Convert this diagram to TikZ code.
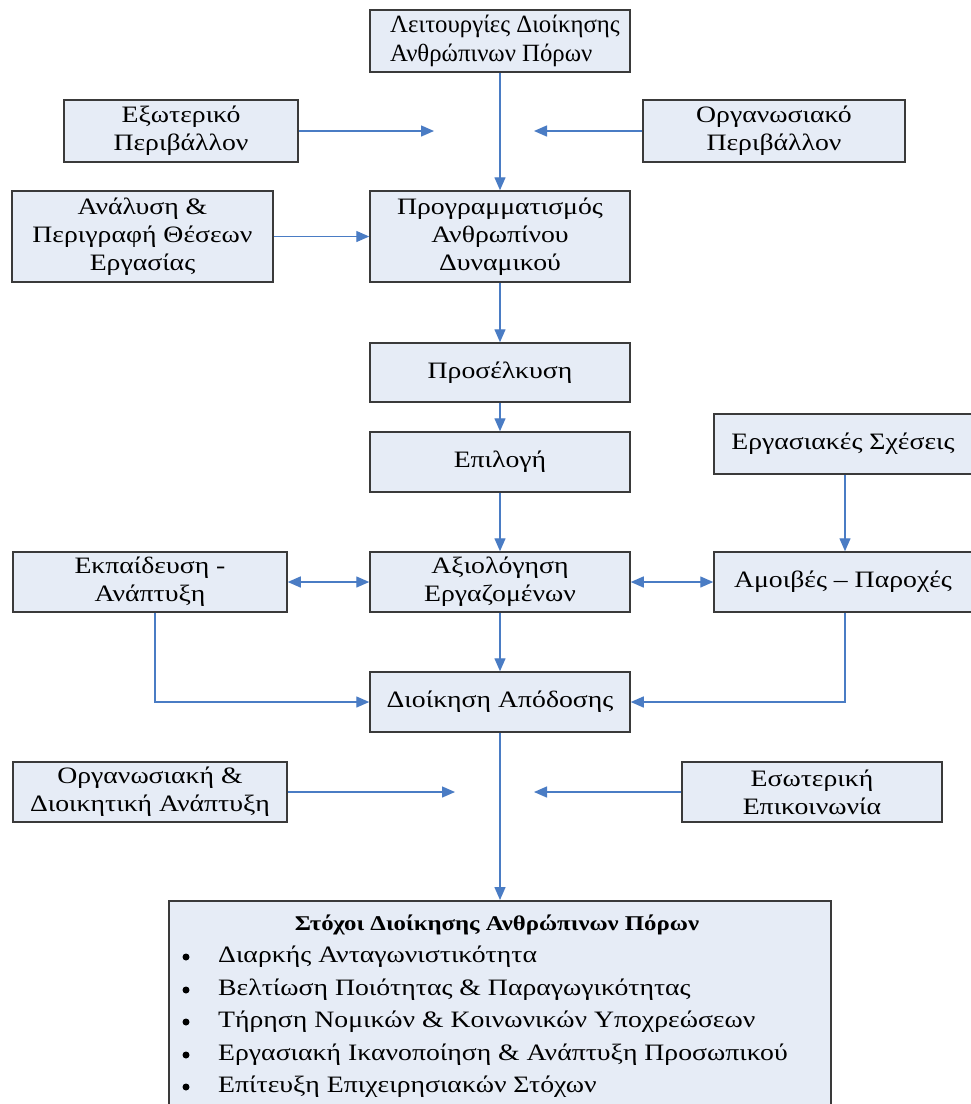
\documentclass[tikz,border=0pt]{standalone}
\usepackage{fontspec}
\setmainfont[FakeStretch=1.18]{Liberation Serif}
\newfontfamily\topfont{Liberation Serif}
\usetikzlibrary{arrows.meta}
\definecolor{boxfill}{HTML}{E6ECF6}
\definecolor{boxline}{HTML}{3A3A3A}
\definecolor{arr}{HTML}{4A7CC4}
\tikzset{
  hbox/.style={draw=boxline, line width=1.5pt, fill=boxfill, inner sep=0pt, align=center,
    font=\fontsize{23.5}{28}\selectfont},
  conn/.style={draw=arr, line width=1.4pt, -{Triangle[length=13pt,width=11pt]}},
  dconn/.style={draw=arr, line width=1.4pt, {Triangle[length=13pt,width=11pt]}-{Triangle[length=13pt,width=11pt]}},
  itemtxt/.style={anchor=west, inner sep=0pt, font=\fontsize{23.5}{28}\selectfont},
  bul/.style={circle, fill=black, inner sep=0pt, minimum size=7pt}
}
\begin{document}
\begin{tikzpicture}[x=1pt,y=-1pt]
\clip (0,0) rectangle (971,1104);
\fill[white] (0,0) rectangle (971,1104);

\node[hbox, minimum width=260pt, minimum height=62pt] (top) at (500,41) {};
\node[inner sep=0pt, align=left, anchor=west, font=\topfont\fontsize{24.8}{29}\selectfont] (toptxt) at (390,41)
  {Λειτουργίες Διοίκησης\\Ανθρώπινων Πόρων};
\node[hbox, minimum width=234pt, minimum height=62pt] (ext) at (181,131) {Εξωτερικό\\Περιβάλλον};
\node[hbox, minimum width=262pt, minimum height=62pt] (org) at (774,131) {Οργανωσιακό\\Περιβάλλον};
\node[hbox, minimum width=261pt, minimum height=91pt] (anal) at (142.5,236.5) {Ανάλυση \&\\Περιγραφή Θέσεων\\Εργασίας};
\node[hbox, minimum width=260pt, minimum height=91pt] (prog) at (500,236.5) {Προγραμματισμός\\Ανθρωπίνου\\Δυναμικού};
\node[hbox, minimum width=260pt, minimum height=59pt] (pros) at (500,372.5) {Προσέλκυση};
\node[hbox, minimum width=260pt, minimum height=60pt] (epil) at (500,462) {Επιλογή};
\node[hbox, minimum width=258pt, minimum height=60pt] (ergs) at (843,444) {Εργασιακές Σχέσεις};
\node[hbox, minimum width=274pt, minimum height=60pt] (ekp) at (150,582) {Εκπαίδευση -\\Ανάπτυξη};
\node[hbox, minimum width=260pt, minimum height=60pt] (axi) at (500,582) {Αξιολόγηση\\Εργαζομένων};
\node[hbox, minimum width=258pt, minimum height=60pt] (amoi) at (843,582) {Αμοιβές -- Παροχές};
\node[hbox, minimum width=260pt, minimum height=60pt] (dioik) at (500,702) {Διοίκηση Απόδοσης};
\node[hbox, minimum width=274pt, minimum height=60pt] (orgd) at (150,792) {Οργανωσιακή \&\\Διοικητική Ανάπτυξη};
\node[hbox, minimum width=260pt, minimum height=60pt] (eso) at (812,792) {Εσωτερική\\Επικοινωνία};

\node[hbox, minimum width=662pt, minimum height=215pt, anchor=north] (goals) at (500,900) {};
\node[inner sep=0pt, font=\fontsize{21}{24}\selectfont\bfseries] (gtitle) at (497,925) {Στόχοι Διοίκησης Ανθρώπινων Πόρων};
\foreach \i/\yy/\t in {1/957/{Διαρκής Ανταγωνιστικότητα},
                       2/990/{Βελτίωση Ποιότητας \& Παραγωγικότητας},
                       3/1022/{Τήρηση Νομικών \& Κοινωνικών Υποχρεώσεων},
                       4/1055/{Εργασιακή Ικανοποίηση \& Ανάπτυξη Προσωπικού},
                       5/1087/{Επίτευξη Επιχειρησιακών Στόχων}}{
  \node[bul] (b\i) at (186,\yy) {};
  \node[itemtxt] (it\i) at (218,\yy) {\t};
}

\coordinate (extEnd) at (434,131);
\coordinate (orgEnd) at (534,131);
\coordinate (orgdEnd) at (455,792);
\coordinate (esoEnd) at (534,792);

\draw[conn] (top) -- (prog);
\draw[conn] (ext) -- (extEnd);
\draw[conn] (org) -- (orgEnd);
\draw[conn] (anal) -- (prog);
\draw[conn] (prog) -- (pros);
\draw[conn] (pros) -- (epil);
\draw[conn] (epil) -- (axi);
\draw[conn] ([xshift=2pt]ergs.south) -- ([xshift=2pt]amoi.north);
\draw[dconn] (ekp) -- (axi);
\draw[dconn] (axi) -- (amoi);
\draw[conn] (axi) -- (dioik);
\draw[conn] ([xshift=5pt]ekp.south) |- (dioik);
\draw[conn] ([xshift=2pt]amoi.south) |- (dioik);
\draw[conn] (orgd) -- (orgdEnd);
\draw[conn] (eso) -- (esoEnd);
\draw[conn] (dioik) -- (goals);
\end{tikzpicture}
\end{document}
